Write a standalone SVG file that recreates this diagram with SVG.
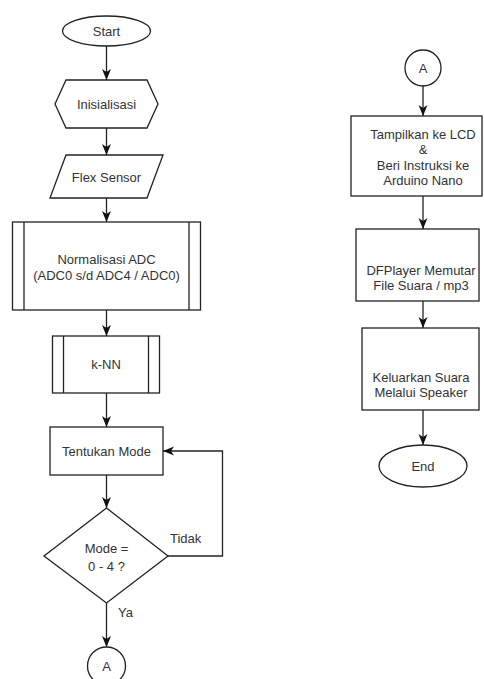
<svg xmlns="http://www.w3.org/2000/svg" width="484" height="679" viewBox="0 0 484 679">
<style>
.s{fill:#fff;stroke:#222;stroke-width:1.3}
.t{font-family:"Liberation Sans",Arial,sans-serif;font-size:13px;fill:#333;text-anchor:middle;dominant-baseline:central}
.l{font-family:"Liberation Sans",Arial,sans-serif;font-size:13px;fill:#333;dominant-baseline:central}
.c{fill:none;stroke:#222;stroke-width:1.3}
</style>
<defs>
<marker id="ah" markerUnits="userSpaceOnUse" markerWidth="12" markerHeight="12" viewBox="0 0 12 12" refX="11" refY="6" orient="auto">
<path d="M0,1.5 L11,6 L0,10.5 L3,6 z" fill="#111"/>
</marker>
</defs>
<rect width="484" height="679" fill="#fff"/>
<g id="connectors">
<line class="c" x1="106.5" y1="46" x2="106.5" y2="80" marker-end="url(#ah)"/>
<line class="c" x1="106.5" y1="128" x2="106.5" y2="155" marker-end="url(#ah)"/>
<line class="c" x1="106.5" y1="198" x2="106.5" y2="222" marker-end="url(#ah)"/>
<line class="c" x1="106.5" y1="310" x2="106.5" y2="336" marker-end="url(#ah)"/>
<line class="c" x1="106.5" y1="393" x2="106.5" y2="427" marker-end="url(#ah)"/>
<line class="c" x1="106.5" y1="475" x2="106.5" y2="508" marker-end="url(#ah)"/>
<polyline class="c" points="168,556 222.5,556 222.5,451 163,451" marker-end="url(#ah)"/>
<line class="c" x1="106.5" y1="603" x2="106.5" y2="647" marker-end="url(#ah)"/>
<text class="l" x="170" y="538">Tidak</text>
<text class="l" x="118" y="612">Ya</text>
<line class="c" x1="423" y1="86" x2="423" y2="116" marker-end="url(#ah)"/>
<line class="c" x1="423" y1="196" x2="423" y2="229" marker-end="url(#ah)"/>
<line class="c" x1="423" y1="301" x2="423" y2="328" marker-end="url(#ah)"/>
<line class="c" x1="423" y1="410" x2="423" y2="445" marker-end="url(#ah)"/>
</g>
<g id="start">
<ellipse class="s" cx="106.5" cy="31" rx="44" ry="15"/>
<text class="t" x="106.5" y="31">Start</text>
</g>
<g id="inisialisasi">
<polygon class="s" points="55,104 66,80 147,80 158,104 147,128 66,128"/>
<text class="t" x="106.5" y="104">Inisialisasi</text>
</g>
<g id="flex">
<polygon class="s" points="66,155 163,155 147,198 50,198"/>
<text class="t" x="106.5" y="177">Flex Sensor</text>
</g>
<g id="normalisasi">
<rect class="s" x="12.5" y="222" width="188" height="88"/>
<line class="c" x1="24" y1="222" x2="24" y2="310"/>
<line class="c" x1="189" y1="222" x2="189" y2="310"/>
<text class="t" x="106.5" y="259">Normalisasi ADC</text>
<text class="t" x="106.5" y="275">(ADC0 s/d ADC4 / ADC0)</text>
</g>
<g id="knn">
<rect class="s" x="52.5" y="336" width="107" height="57"/>
<line class="c" x1="63.5" y1="336" x2="63.5" y2="393"/>
<line class="c" x1="148.5" y1="336" x2="148.5" y2="393"/>
<text class="t" x="106" y="364">k-NN</text>
</g>
<g id="tentukan">
<rect class="s" x="50" y="427" width="113" height="48"/>
<text class="t" x="106.5" y="451">Tentukan Mode</text>
</g>
<g id="decision">
<polygon class="s" points="106.5,508 168,556 106.5,603 44,556"/>
<text class="t" x="106.5" y="548">Mode =</text>
<text class="t" x="106.5" y="566">0 - 4 ?</text>
</g>
<g id="connA1">
<circle class="s" cx="106.5" cy="666" r="19"/>
<text class="t" x="106.5" y="666">A</text>
</g>
<g id="connA2">
<circle class="s" cx="423" cy="68" r="18"/>
<text class="t" x="423" y="68">A</text>
</g>
<g id="tampilkan">
<rect class="s" x="351" y="116" width="131" height="80"/>
<text class="t" x="423" y="134">Tampilkan ke LCD</text>
<text class="t" x="423" y="149.5">&amp;</text>
<text class="t" x="423" y="165">Beri Instruksi ke</text>
<text class="t" x="423" y="180.5">Arduino Nano</text>
</g>
<g id="dfplayer">
<rect class="s" x="356" y="229" width="123" height="72"/>
<text class="t" x="421" y="270">DFPlayer Memutar</text>
<text class="t" x="421" y="285">File Suara / mp3</text>
</g>
<g id="keluarkan">
<rect class="s" x="362" y="328" width="117" height="82"/>
<text class="t" x="421" y="377">Keluarkan Suara</text>
<text class="t" x="421" y="392">Melalui Speaker</text>
</g>
<g id="end">
<ellipse class="s" cx="423" cy="466" rx="44" ry="21"/>
<text class="t" x="423" y="466">End</text>
</g>
</svg>
